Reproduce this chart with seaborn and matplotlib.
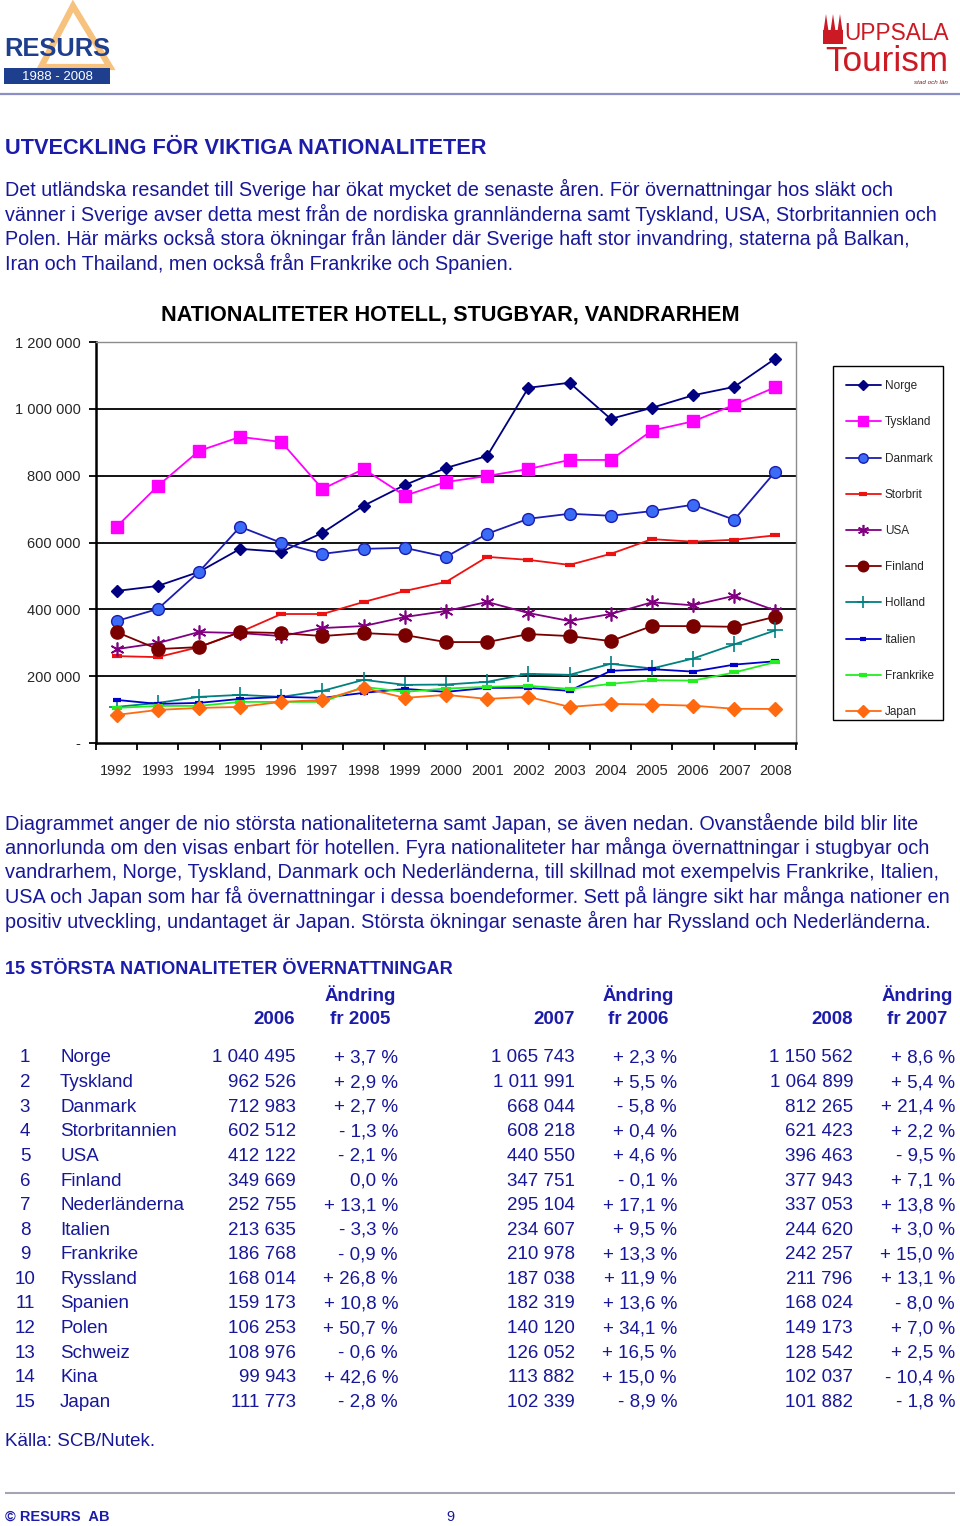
import numpy as np
import pandas as pd
import matplotlib
matplotlib.use("Agg")
import matplotlib.pyplot as plt
import seaborn as sns
from matplotlib.lines import Line2D
from matplotlib.patches import Polygon, Rectangle

# ---------------- data ----------------
years = list(range(1992, 2009))
norge = [455000, 470000, 512000, 581000, 572000, 629000, 710000, 772000, 823000,
         859000, 1063000, 1078000, 970000, 1003000, 1040495, 1065743, 1150562]
tyskland = [647000, 769000, 874000, 916000, 901000, 760000, 820000, 740000, 781000,
            799000, 820000, 847000, 847000, 935000, 962526, 1011991, 1064899]
danmark = [365000, 401000, 512000, 647000, 599000, 566000, 581000, 584000, 557000,
           626000, 671000, 686000, 680000, 694000, 712983, 668044, 812265]
storbrit = [260000, 257000, 287000, 332000, 386000, 386000, 422000, 455000, 482000,
            557000, 548000, 533000, 566000, 610000, 602512, 608218, 621423]
usa = [281000, 299000, 332000, 329000, 320000, 344000, 350000, 377000, 395000,
       422000, 389000, 365000, 386000, 421000, 412122, 440550, 396463]
finland = [332000, 281000, 287000, 332000, 329000, 320000, 329000, 323000, 302000,
           302000, 326000, 320000, 305000, 350000, 349669, 347751, 377943]
holland = [108000, 120000, 138000, 144000, 138000, 156000, 189000, 174000, 175000,
           183000, 207000, 204000, 237000, 223000, 252755, 295104, 337053]
italien = [129000, 117000, 120000, 132000, 138000, 135000, 150000, 162000, 153000,
           165000, 165000, 156000, 216000, 221000, 213635, 234607, 244620]
frankrike = [105000, 111000, 111000, 123000, 123000, 123000, 168000, 153000, 163000,
             168000, 171000, 162000, 177000, 188000, 186768, 210978, 242257]
japan = [84000, 99000, 105000, 108000, 123000, 129000, 165000, 135000, 144000,
         132000, 138000, 108000, 117000, 115000, 111773, 102339, 101882]

series_names = ["Norge", "Tyskland", "Danmark", "Storbrit", "USA", "Finland",
                "Holland", "Italien", "Frankrike", "Japan"]
series_values = [norge, tyskland, danmark, storbrit, usa, finland,
                 holland, italien, frankrike, japan]
y_ticks = [0, 200000, 400000, 600000, 800000, 1000000, 1200000]
y_tick_labels = ["-", "200 000", "400 000", "600 000", "800 000", "1 000 000", "1 200 000"]

table_names = ["Norge", "Tyskland", "Danmark", "Storbritannien", "USA", "Finland",
               "Nederländerna", "Italien", "Frankrike", "Ryssland", "Spanien", "Polen",
               "Schweiz", "Kina", "Japan"]
v2006 = [1040495, 962526, 712983, 602512, 412122, 349669, 252755, 213635, 186768,
         168014, 159173, 106253, 108976, 99943, 111773]
ch2006 = [3.7, 2.9, 2.7, -1.3, -2.1, 0.0, 13.1, -3.3, -0.9, 26.8, 10.8, 50.7, -0.6, 42.6, -2.8]
v2007 = [1065743, 1011991, 668044, 608218, 440550, 347751, 295104, 234607, 210978,
         187038, 182319, 140120, 126052, 113882, 102339]
ch2007 = [2.3, 5.5, -5.8, 0.4, 4.6, -0.1, 17.1, 9.5, 13.3, 11.9, 13.6, 34.1, 16.5, 15.0, -8.9]
v2008 = [1150562, 1064899, 812265, 621423, 396463, 377943, 337053, 244620, 242257,
         211796, 168024, 149173, 128542, 102037, 101882]
ch2008 = [8.6, 5.4, 21.4, 2.2, -9.5, 7.1, 13.8, 3.0, 15.0, 13.1, -8.0, 7.0, 2.5, -10.4, -1.8]

para1 = ["Det utländska resandet till Sverige har ökat mycket de senaste åren. För övernattningar hos släkt och",
         "vänner i Sverige avser detta mest från de nordiska grannländerna samt Tyskland, USA, Storbritannien och",
         "Polen. Här märks också stora ökningar från länder där Sverige haft stor invandring, staterna på Balkan,",
         "Iran och Thailand, men också från Frankrike och Spanien."]
para2 = ["Diagrammet anger de nio största nationaliteterna samt Japan, se även nedan. Ovanstående bild blir lite",
         "annorlunda om den visas enbart för hotellen. Fyra nationaliteter har många övernattningar i stugbyar och",
         "vandrarhem, Norge, Tyskland, Danmark och Nederländerna, till skillnad mot exempelvis Frankrike, Italien,",
         "USA och Japan som har få övernattningar i dessa boendeformer. Sett på längre sikt har många nationer en",
         "positiv utveckling, undantaget är Japan. Största ökningar senaste åren har Ryssland och Nederländerna."]

# ---------------- styling ----------------
sns.set_theme(style="white")
plt.rcParams["font.family"] = ["Liberation Sans", "DejaVu Sans"]

BLUE_TXT = "#17179a"
BLUE_HEAD = "#1c1cab"

styles = {
    "Norge":     dict(color="#000080", marker="D", ms=6.5, mfc="#000080", mec="#000080", mew=1),
    "Tyskland":  dict(color="#ff00ff", marker="s", ms=8.5, mfc="#ff00ff", mec="#ff00ff", mew=1),
    "Danmark":   dict(color="#1c1cb0", marker="o", ms=8.5, mfc="#3a6cf5", mec="#1c1cb0", mew=1),
    "Storbrit":  dict(color="#ee1111", marker="_", ms=7, mfc="#ee1111", mec="#ee1111", mew=3),
    "USA":       dict(color="#800080", marker=(6, 2, 0), ms=10, mfc="#800080", mec="#800080", mew=1.2),
    "Finland":   dict(color="#7a0000", marker="o", ms=9.5, mfc="#7a0000", mec="#7a0000", mew=1),
    "Holland":   dict(color="#008080", marker="+", ms=11, mfc="#008080", mec="#008080", mew=1.2),
    "Italien":   dict(color="#0000cc", marker="_", ms=6, mfc="#0000cc", mec="#0000cc", mew=3),
    "Frankrike": dict(color="#22ee22", marker="_", ms=7, mfc="#22ee22", mec="#22ee22", mew=3),
    "Japan":     dict(color="#ff6a10", marker="D", ms=7.5, mfc="#ff6a10", mec="#ff6a10", mew=1),
}

W, H = 960, 1526
fig = plt.figure(figsize=(W / 100, H / 100), dpi=100)
fig.patch.set_facecolor("white")

page = fig.add_axes([0, 0, 1, 1], zorder=0)
page.set_xlim(0, W)
page.set_ylim(H, 0)
page.axis("off")

renderer = fig.canvas.get_renderer()


def fit_lines(lines, x, ys, widths, base, **kw):
    objs = [page.text(x, y, s, ha="left", va="center", fontsize=base, **kw)
            for s, y in zip(lines, ys)]
    ratios = [w / o.get_window_extent(renderer).width for o, w in zip(objs, widths)]
    size = base * float(min(ratios))
    for o in objs:
        o.set_fontsize(size)
    return size


# ---------------- header logos ----------------
page.add_patch(Polygon([[73, 6], [41, 67], [110, 67]], closed=True, fill=False,
                       edgecolor="#f7c27e", lw=4.5, joinstyle="miter", zorder=1))
t = page.text(4, 56, "RESURS", ha="left", va="baseline", fontsize=26, weight="bold",
              color="#1e3e8e", zorder=2)
t.set_fontsize(26 * 106 / t.get_window_extent(renderer).width)
page.add_patch(Rectangle((4, 68), 106, 16, facecolor="#1e3e8e", edgecolor="none", zorder=2))
page.text(57, 76.5, "1988 - 2008", ha="center", va="center", fontsize=9.5, color="white",
          zorder=3)

RED = "#cc1a24"
# small cathedral silhouette
page.add_patch(Rectangle((823, 30), 20, 14, facecolor=RED, edgecolor="none"))
for xs in (826, 833, 840):
    page.add_patch(Polygon([[xs - 2.5, 31], [xs, 14], [xs + 2.5, 31]], closed=True,
                           facecolor=RED, edgecolor="none"))
t = page.text(844, 40, "UPPSALA", ha="left", va="baseline", fontsize=18, color=RED)
t.set_fontsize(18 * 104 / t.get_window_extent(renderer).width)
t = page.text(825, 71, "Tourism", ha="left", va="baseline", fontsize=26, color=RED)
t.set_fontsize(26 * 123 / t.get_window_extent(renderer).width)
page.text(948, 83, "stad och län", ha="right", va="center", fontsize=4.5, style="italic",
          color="#7a1a1a")
page.plot([0, 960], [94, 94], color="#8a90c4", lw=1.6, solid_capstyle="butt")

# ---------------- heading & paragraph 1 ----------------
t = page.text(5, 148, "UTVECKLING FÖR VIKTIGA NATIONALITETER", ha="left", va="center",
              fontsize=15, weight="bold", color=BLUE_HEAD)
t.set_fontsize(15 * 480 / t.get_window_extent(renderer).width)

fit_lines(para1, 5, [189, 214, 238, 263], [895, 931, 908, 505], 13, color=BLUE_TXT)

# ---------------- chart ----------------
ax = fig.add_axes([96 / W, 1 - 743 / H, 700 / W, 401 / H], zorder=2)
ax.set_facecolor("white")
xpos = np.arange(len(years))
for name, vals in zip(series_names, series_values):
    st = styles[name]
    sns.lineplot(x=xpos, y=vals, ax=ax, color=st["color"], linewidth=1.3,
                 marker=st["marker"], markersize=st["ms"], markerfacecolor=st["mfc"],
                 markeredgecolor=st["mec"], markeredgewidth=st["mew"], zorder=3)

ax.set_xlim(-0.5, len(years) - 0.5)
ax.set_ylim(0, 1200000)
for v in y_ticks[1:-1]:
    ax.axhline(v, color="black", lw=1.3, zorder=1)
ax.set_yticks(y_ticks)
ax.set_yticklabels(y_tick_labels)
ax.tick_params(axis="y", direction="out", length=5, width=1.3, color="black",
               labelsize=10.5, pad=6, left=True)
ax.set_xticks(xpos)
ax.set_xticklabels([str(y) for y in years])
ax.set_xticks(np.arange(-0.5, len(years)), minor=True)
ax.tick_params(axis="x", which="major", length=0, labelsize=10.5, pad=15)
ax.tick_params(axis="x", which="minor", direction="out", length=5, width=1.3,
               color="black", bottom=True)
ax.set_xlabel("")
ax.set_ylabel("")
for side in ("left", "bottom"):
    ax.spines[side].set_color("black")
    ax.spines[side].set_linewidth(1.8)
for side in ("top", "right"):
    ax.spines[side].set_color("#8c8c8c")
    ax.spines[side].set_linewidth(1.0)
ax.grid(False)

t = page.text(450, 315, "NATIONALITETER HOTELL, STUGBYAR, VANDRARHEM", ha="center",
              va="center", fontsize=14, weight="bold", color="black")
t.set_fontsize(14 * 580 / t.get_window_extent(renderer).width)

# legend
page.add_patch(Rectangle((833, 366), 110, 354, facecolor="white", edgecolor="black",
                         lw=1.0, zorder=1))
handles = []
for name in series_names:
    st = styles[name]
    handles.append(Line2D([], [], color=st["color"], lw=1.3, marker=st["marker"],
                          markersize=st["ms"] * 0.8, markerfacecolor=st["mfc"],
                          markeredgecolor=st["mec"], markeredgewidth=st["mew"]))
leg = fig.legend(handles, series_names, loc="upper left",
                 bbox_to_anchor=(838 / W, 1 - 372 / H), frameon=False, fontsize=8.5,
                 labelspacing=2.05, handlelength=2.9, handletextpad=0.35,
                 borderpad=0.2)

# ---------------- paragraph 2 ----------------
fit_lines(para2, 5, [823, 847, 872, 896, 921], [922, 938, 946, 944, 920], 13,
          color=BLUE_TXT)

# ---------------- table ----------------
t = page.text(5, 970, "15 STÖRSTA NATIONALITETER ÖVERNATTNINGAR", ha="left", va="center",
              fontsize=13, weight="bold", color=BLUE_HEAD)
t.set_fontsize(13 * 448 / t.get_window_extent(renderer).width)

TS = 13.5
hdr_kw = dict(fontsize=TS, weight="bold", color=BLUE_HEAD, va="center")
for yr, xr, xc in ((2006, 295, 360), (2007, 575, 638), (2008, 853, 917)):
    page.text(xc, 995, "Ändring", ha="center", **hdr_kw)
    page.text(xr, 1019, str(yr), ha="right", **hdr_kw)
    page.text(xc, 1019, f"fr {yr - 1}", ha="center", **hdr_kw)


def fmt_num(v):
    return f"{v:,}".replace(",", " ")


def fmt_ch(c):
    sign = "+ " if c > 0 else ("- " if c < 0 else "")
    return f"{sign}{abs(c):.1f}".replace(".", ",") + " %"


row_kw = dict(fontsize=TS, color=BLUE_TXT, va="center")
for i, name in enumerate(table_names):
    y = 1058 + i * 24.6
    page.text(25, y, str(i + 1), ha="center", **row_kw)
    page.text(60, y, name, ha="left", **row_kw)
    page.text(296, y, fmt_num(v2006[i]), ha="right", **row_kw)
    page.text(398, y, fmt_ch(ch2006[i]), ha="right", **row_kw)
    page.text(575, y, fmt_num(v2007[i]), ha="right", **row_kw)
    page.text(677, y, fmt_ch(ch2007[i]), ha="right", **row_kw)
    page.text(853, y, fmt_num(v2008[i]), ha="right", **row_kw)
    page.text(955, y, fmt_ch(ch2008[i]), ha="right", **row_kw)

page.text(5, 1441, "Källa: SCB/Nutek.", ha="left", va="center", fontsize=TS, color=BLUE_TXT)

# ---------------- footer ----------------
page.plot([5, 955], [1493, 1493], color="#a4a4b4", lw=1.5, solid_capstyle="butt")
page.text(5, 1517, "© RESURS  AB", ha="left", va="center", fontsize=10.5, weight="bold",
          color=BLUE_HEAD)
page.text(450, 1517, "9", ha="center", va="center", fontsize=10.5, color=BLUE_TXT)

fig.savefig("out.png", dpi=100, facecolor="white")
